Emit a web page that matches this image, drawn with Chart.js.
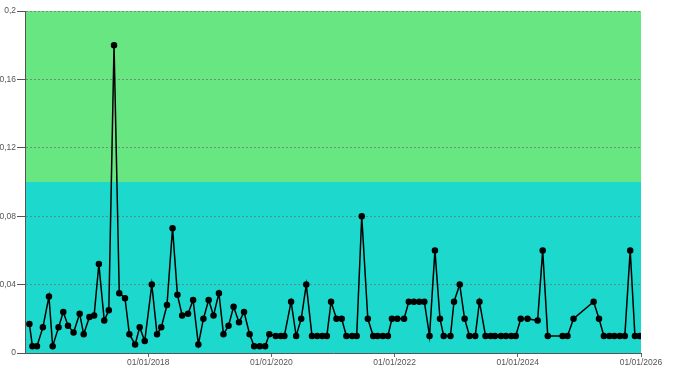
<!DOCTYPE html>
<html>
<head>
<meta charset="utf-8">
<script src="https://cdn.jsdelivr.net/npm/chart.js@4/dist/chart.umd.min.js"></script>
<style>
html,body{margin:0;padding:0;background:#fff;}
#wrap{width:674px;height:379px;position:relative;}
</style>
</head>
<body>
<div id="wrap"><canvas id="c" width="674" height="379"></canvas></div>
<script>
// ---- data ----
const dates = [
"2016-01-27","2016-02-14","2016-03-12","2016-04-16","2016-05-22","2016-06-13","2016-07-18","2016-08-15","2016-09-12","2016-10-15",
"2016-11-20","2016-12-14","2017-01-17","2017-02-14","2017-03-14","2017-04-15","2017-05-12","2017-06-12","2017-07-13","2017-08-16",
"2017-09-11","2017-10-15","2017-11-11","2017-12-11","2018-01-22","2018-02-22","2018-03-19","2018-04-22","2018-05-25","2018-06-23",
"2018-07-21","2018-08-25","2018-09-24","2018-10-25","2018-11-24","2018-12-25","2019-01-23","2019-02-24","2019-03-23","2019-04-22",
"2019-05-22","2019-06-23","2019-07-23","2019-08-25","2019-09-21","2019-10-24","2019-11-25","2019-12-20","2020-01-27","2020-02-26",
"2020-03-18","2020-04-27","2020-05-27","2020-06-26","2020-07-26","2020-08-29","2020-09-29","2020-10-29","2020-11-25","2020-12-20",
"2021-01-21","2021-02-21","2021-03-21","2021-04-24","2021-05-21","2021-06-20","2021-07-26","2021-08-27","2021-09-22","2021-10-23",
"2021-11-22","2021-12-16","2022-01-17","2022-02-26","2022-03-26","2022-04-25","2022-05-27","2022-06-26","2022-07-27","2022-08-28",
"2022-09-27","2022-10-19","2022-11-28","2022-12-19","2023-01-22","2023-02-20","2023-03-21","2023-04-24","2023-05-19","2023-06-24",
"2023-07-24","2023-08-19","2023-09-24","2023-10-23","2023-11-24","2023-12-20","2024-01-19","2024-02-28","2024-04-28","2024-05-28",
"2024-06-27","2024-09-23","2024-10-22","2024-11-27","2025-03-26","2025-04-27","2025-05-26","2025-06-28","2025-07-27","2025-08-28",
"2025-09-27","2025-10-29","2025-11-26","2025-12-23"
];
const values = [
0.017,0.004,0.004,0.015,0.033,0.004,0.015,0.024,0.016,0.012,
0.023,0.011,0.021,0.022,0.052,0.019,0.025,0.18,0.035,0.032,
0.011,0.005,0.015,0.007,0.04,0.011,0.015,0.028,0.073,0.034,
0.022,0.023,0.031,0.005,0.02,0.031,0.022,0.035,0.011,0.016,
0.027,0.018,0.024,0.011,0.004,0.004,0.004,0.011,0.01,0.01,
0.01,0.03,0.01,0.02,0.04,0.01,0.01,0.01,0.01,0.03,
0.02,0.02,0.01,0.01,0.01,0.08,0.02,0.01,0.01,0.01,
0.01,0.02,0.02,0.02,0.03,0.03,0.03,0.03,0.01,0.06,
0.02,0.01,0.01,0.03,0.04,0.02,0.01,0.01,0.03,0.01,
0.01,0.01,0.01,0.01,0.01,0.01,0.02,0.02,0.019,0.06,
0.01,0.01,0.01,0.02,0.03,0.02,0.01,0.01,0.01,0.01,
0.01,0.06,0.01,0.01
];
const xTickYears = [2018, 2020, 2022, 2024, 2026];
const xRange = ["2016-01-01", "2026-01-01"];
const yTicks = [0, 0.04, 0.08, 0.12, 0.16, 0.2];
const bandLimits = [0, 0.1, 0.2];
const bandColors = ["#1dd9cd", "#68e682"];

// ---- helpers ----
const toTs = s => { const p = s.split("-").map(Number); return Date.UTC(p[0], p[1]-1, p[2]); };
const pad2 = n => (n < 10 ? "0" : "") + n;
const points = dates.map((d, i) => ({ x: toTs(d), y: values[i] }));

const bandPlugin = {
  id: "bands",
  beforeDraw(chart) {
    const { ctx, chartArea, scales } = chart;
    const y = scales.y;
    ctx.save();
    for (let i = 0; i < bandColors.length; i++) {
      const top = y.getPixelForValue(bandLimits[i + 1]);
      const bot = y.getPixelForValue(bandLimits[i]);
      ctx.fillStyle = bandColors[i];
      ctx.fillRect(chartArea.left, top, chartArea.right - chartArea.left, bot - top);
    }
    ctx.restore();
  }
};

Chart.defaults.font.family = "'Liberation Sans Narrow', 'Arial Narrow', 'Liberation Sans', sans-serif";
Chart.defaults.font.size = 8.5;
Chart.defaults.color = "#555";

new Chart(document.getElementById("c"), {
  type: "line",
  data: {
    datasets: [{
      data: points,
      borderColor: "#000",
      backgroundColor: "#000",
      borderWidth: 1.5,
      pointRadius: 2.5,
      pointHoverRadius: 2.5,
      pointBackgroundColor: "#000",
      pointBorderColor: "#000",
      tension: 0,
      fill: false
    }]
  },
  options: {
    responsive: false,
    animation: false,
    events: [],
    layout: { padding: { top: 11, right: 33, left: 0, bottom: 0 } },
    plugins: { legend: { display: false }, tooltip: { enabled: false } },
    scales: {
      x: {
        type: "linear",
        min: toTs(xRange[0]),
        max: toTs(xRange[1]),
        afterBuildTicks: s => { s.ticks = xTickYears.map(y => ({ value: Date.UTC(y, 0, 1) })); },
        afterFit: s => { s.height = 26; },
        ticks: {
          autoSkip: false,
          maxRotation: 0,
          padding: 1,
          color: "#555",
          callback: v => { const d = new Date(v); return pad2(d.getUTCDate()) + "/" + pad2(d.getUTCMonth() + 1) + "/" + d.getUTCFullYear(); }
        },
        grid: { drawOnChartArea: false, drawTicks: true, tickLength: 4, tickColor: "#666" },
        border: { display: true, color: "#555", width: 1 }
      },
      y: {
        min: 0,
        max: 0.2,
        afterBuildTicks: s => { s.ticks = yTicks.map(v => ({ value: v })); },
        afterFit: s => { s.width = 25; },
        ticks: {
          padding: 1,
          color: "#555",
          callback: v => String(+v.toFixed(2)).replace(".", ",")
        },
        grid: { color: "rgba(110,110,110,0.7)", lineWidth: 1, tickLength: 8, tickColor: "#555", drawTicks: true },
        border: { display: true, color: "#555", width: 1, dash: [2, 2] }
      }
    }
  },
  plugins: [bandPlugin]
});
</script>
</body>
</html>
